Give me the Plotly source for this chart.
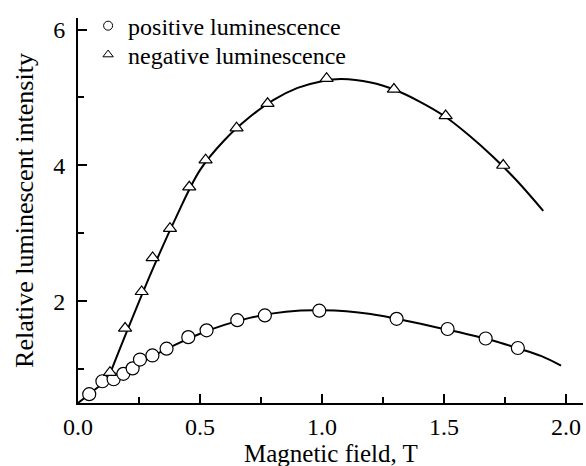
import plotly.graph_objects as go

# Measured points: magnetic field (T) and relative luminescent intensity
pos_field = [0.046, 0.10, 0.146, 0.186, 0.224, 0.254, 0.305, 0.363, 0.452, 0.527,
             0.653, 0.766, 0.989, 1.306, 1.515, 1.671, 1.803]
pos_intensity = [0.63, 0.82, 0.85, 0.93, 1.01, 1.14, 1.20, 1.30, 1.47, 1.57,
                 1.72, 1.79, 1.86, 1.74, 1.59, 1.45, 1.31]

neg_field = [0.131, 0.193, 0.261, 0.306, 0.377, 0.456, 0.523, 0.650, 0.777,
             1.019, 1.295, 1.507, 1.743]
neg_intensity = [0.95, 1.60, 2.14, 2.64, 3.07, 3.68, 4.08, 4.55, 4.91,
                 5.28, 5.12, 4.73, 4.00]

# Smooth guide curves through the data
pos_fit_field = [0.0, 0.05, 0.10, 0.20, 0.30, 0.40, 0.50, 0.60, 0.70, 0.80, 0.90,
                 1.00, 1.10, 1.20, 1.30, 1.40, 1.50, 1.60, 1.70, 1.80, 1.90, 1.98]
pos_fit_intensity = [0.50, 0.64, 0.78, 0.98, 1.18, 1.36, 1.52, 1.65, 1.75, 1.82, 1.86,
                     1.865, 1.85, 1.81, 1.745, 1.67, 1.59, 1.51, 1.42, 1.31, 1.19, 1.05]

neg_fit_field = [0.13, 0.20, 0.30, 0.40, 0.50, 0.60, 0.70, 0.80, 0.90, 1.00, 1.08,
                 1.20, 1.30, 1.40, 1.50, 1.60, 1.70, 1.80, 1.907]
neg_fit_intensity = [0.92, 1.55, 2.42, 3.22, 3.93, 4.37, 4.70, 4.96, 5.14, 5.24, 5.27,
                     5.22, 5.11, 4.94, 4.73, 4.45, 4.13, 3.77, 3.33]

x_ticks = [0.0, 0.5, 1.0, 1.5, 2.0]
x_tick_text = ["0.0", "0.5", "1.0", "1.5", "2.0"]
y_ticks = [2, 4, 6]

FONT = "Liberation Serif"

fig = go.Figure()

fig.add_trace(go.Scatter(x=pos_fit_field, y=pos_fit_intensity, mode="lines",
                         line=dict(color="black", width=2, shape="spline"),
                         showlegend=False, hoverinfo="skip"))
fig.add_trace(go.Scatter(x=neg_fit_field, y=neg_fit_intensity, mode="lines",
                         line=dict(color="black", width=2, shape="spline"),
                         showlegend=False, hoverinfo="skip"))

fig.add_trace(go.Scatter(x=pos_field, y=pos_intensity, mode="markers",
                         marker=dict(symbol="circle", size=13, color="white",
                                     line=dict(color="black", width=1.2)),
                         showlegend=False))
fig.add_trace(go.Scatter(x=neg_field, y=neg_intensity, mode="markers",
                         marker=dict(symbol="triangle-up", size=11.5, color="white",
                                     line=dict(color="black", width=1.2)),
                         showlegend=False))

# Legend entries with small symbols, one legend box per line
fig.add_trace(go.Scatter(x=[None], y=[None], mode="markers", name="positive luminescence",
                         legend="legend",
                         marker=dict(symbol="circle-open", size=9, color="black",
                                     line=dict(width=1))))
fig.add_trace(go.Scatter(x=[None], y=[None], mode="markers", name="negative luminescence",
                         legend="legend2",
                         marker=dict(symbol="triangle-up-open", size=9, color="black",
                                     line=dict(width=1))))

legend_style = dict(xanchor="left", yanchor="middle",
                    font=dict(family=FONT, size=24, color="black"),
                    bgcolor="rgba(0,0,0,0)")

fig.update_layout(
    width=586, height=466,
    margin=dict(l=78, r=3, t=18, b=63),
    paper_bgcolor="white", plot_bgcolor="white",
    font=dict(family=FONT, color="black"),
    legend=dict(x=0.02, y=0.979, **legend_style),
    legend2=dict(x=0.02, y=0.904, **legend_style),
    xaxis=dict(
        range=[0, 2.07], tickvals=x_ticks, ticktext=x_tick_text,
        ticks="inside", ticklen=9, tickwidth=1.5, tickcolor="black",
        showline=True, linewidth=2, linecolor="black",
        showgrid=False, zeroline=False, ticklabelstandoff=1,
        tickfont=dict(family=FONT, size=24, color="black"),
        minor=dict(dtick=0.25, tick0=0, ticks="inside", ticklen=6,
                   tickwidth=1.5, tickcolor="black", showgrid=False),
    ),
    yaxis=dict(
        range=[0.5, 6.17], tickvals=y_ticks,
        ticks="inside", ticklen=9, tickwidth=1.5, tickcolor="black",
        showline=True, linewidth=2, linecolor="black",
        showgrid=False, zeroline=False, ticklabelstandoff=6,
        tickfont=dict(family=FONT, size=24, color="black"),
        minor=dict(dtick=1, tick0=0, ticks="inside", ticklen=6,
                   tickwidth=1.5, tickcolor="black", showgrid=False),
        title=dict(text="Relative luminescent intensity",
                   font=dict(family=FONT, size=26), standoff=12),
    ),
    annotations=[dict(text="Magnetic field, T", xref="paper", yref="paper",
                      x=0.5, y=-0.13, xanchor="center", yanchor="middle",
                      borderpad=0,
                      showarrow=False, font=dict(family=FONT, size=25, color="black"))],
)

fig.write_html("out.html")
